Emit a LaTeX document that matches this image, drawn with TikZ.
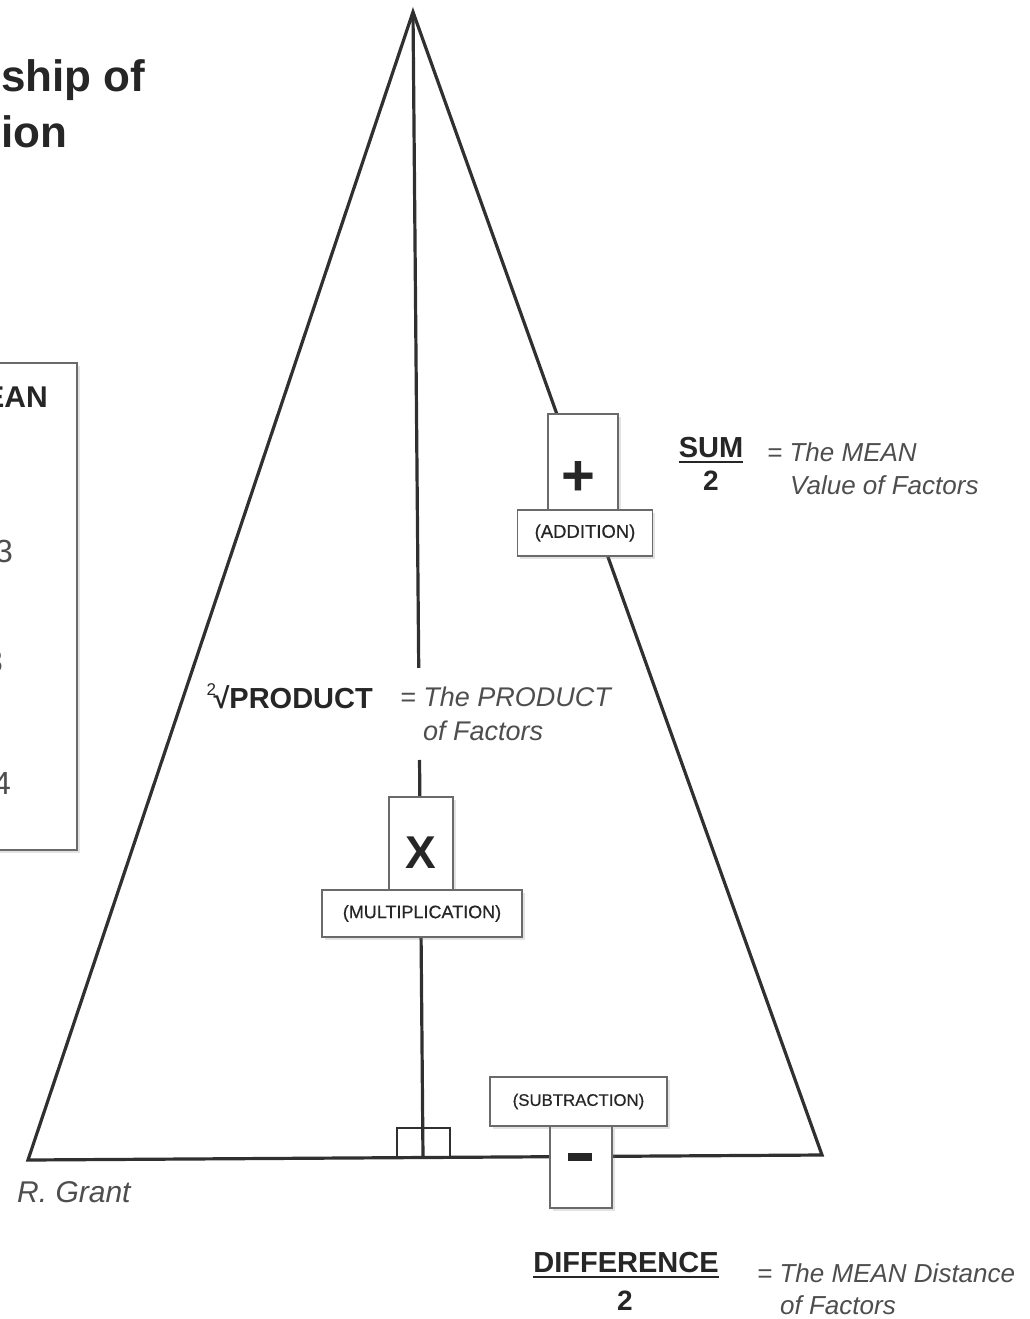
\documentclass[tikz,border=0pt]{standalone}
\usepackage{fontspec}
\setmainfont{Liberation Sans}
\usetikzlibrary{shadows,calc}
\definecolor{linec}{HTML}{303030}
\definecolor{boxc}{HTML}{6A6A6A}
\definecolor{ink}{HTML}{262626}
\definecolor{grayink}{HTML}{4E4E4E}
\newcommand{\setfs}[1]{\fontsize{#1}{#1}\selectfont}
\tikzset{
  side/.style={line width=3.2pt, draw=linec},
  opbox/.style={draw=boxc, line width=1.8pt, fill=white, inner sep=0pt,
    drop shadow={opacity=0.22, shadow xshift=2.5pt, shadow yshift=-2.5pt}},
  lbl/.style={inner sep=0pt, text=ink},
  desc/.style={inner sep=0pt, text=grayink, font=\setfs{26}\itshape},
  boldtxt/.style={inner sep=0pt, text=ink, font=\setfs{28}\bfseries},
  oplbl/.style={opbox, text=ink},
}
\begin{document}
\begin{tikzpicture}[x=1pt,y=-1pt]
\useasboundingbox[fill=white] (0,0) rectangle (1029,1319);

% title fragments
\node[lbl, anchor=base west, font=\setfs{44}\bfseries, text=ink] (title1) at (1,92) {ship of};
\node[lbl, anchor=base west, font=\setfs{44}\bfseries, text=ink] (title2) at (1,147) {ion};

% left table box (cut off)
\node[opbox, minimum width=97pt, minimum height=487pt] (leftbox) at (28.5,606.5) {};
\node[lbl, anchor=base east, font=\setfs{30}\bfseries] (mean) at (48,407) {EAN};
\node[lbl, anchor=base east, font=\setfs{32}, text=grayink] (v1) at (13,562) {3};
\node[lbl, anchor=base east, font=\setfs{32}, text=grayink] (v2) at (3,672) {3};
\node[lbl, anchor=base east, font=\setfs{32}, text=grayink] (v3) at (11,794) {4};

% triangle
\coordinate (apex) at (413,12);
\coordinate (L) at (28,1160);
\coordinate (R) at (822,1155);
\coordinate (foot) at (423,1158);
\coordinate (gapa) at ($(apex)!0.5724!(foot)$);
\coordinate (gapb) at ($(apex)!0.6527!(foot)$);
\draw[side, line join=miter] (L) -- (apex) -- (R) -- cycle;
\draw[side] (apex) -- (gapa);
\draw[side] (gapb) -- (foot);
\draw[line width=2.6pt, draw=linec] ($(foot)+(-26,0)$) rectangle ($(foot)+(27,-30)$);

% addition
\node[opbox, minimum width=70pt, minimum height=96pt] (plusbox) at (583,462) {};
\node[lbl, font=\setfs{58}\bfseries] (plus) at (578,478) {+};
\node[oplbl, minimum width=135pt, minimum height=46pt, font=\setfs{18.5}\addfontfeature{FakeBold=0.5}] (addbox) at (585,533) {(ADDITION)};

% multiplication
\node[opbox, minimum width=64pt, minimum height=93pt] (xbox) at (421,843.5) {};
\node[lbl, font=\setfs{46}\bfseries] (xsign) at (421,853) {X};
\node[oplbl, minimum width=200pt, minimum height=47pt, font=\setfs{18}\addfontfeature{FakeBold=0.5}] (multbox) at (422,913.5) {(MULTIPLICATION)};

% subtraction
\node[opbox, minimum width=62pt, minimum height=82pt] (minusbox) at (581,1167) {};
\node[oplbl, minimum width=177pt, minimum height=49pt, font=\setfs{16.8}\addfontfeature{FakeBold=0.5}] (subbox) at (578.5,1101.5) {(SUBTRACTION)};
\node[fill=ink, inner sep=0pt, minimum width=24pt, minimum height=8pt] (minus) at (580,1157) {};

% SUM / 2
\node[boldtxt, anchor=base, font=\setfs{29}\bfseries] (sum) at (711,457) {SUM};
\draw[line width=2.5pt, draw=ink] ([yshift=-5pt]sum.base west) -- ([yshift=-5pt]sum.base east);
\node[boldtxt, anchor=base] (sumtwo) at (711,490) {2};
\node[desc, anchor=base west] (mean1) at (767,461) {= The MEAN};
\node[desc, anchor=base west] (mean2) at (790,494) {Value of Factors};

% PRODUCT
\node[lbl, anchor=base east, font=\setfs{29}\bfseries] (root) at (373,708)
  {{\setfs{17}\mdseries\raisebox{13pt}{2}}\kern-2.5pt√PRODUCT};
\node[desc, anchor=base west, font=\setfs{27}\itshape] (prod1) at (400,706) {= The PRODUCT};
\node[desc, anchor=base west, font=\setfs{27}\itshape] (prod2) at (423,740) {of Factors};

% DIFFERENCE / 2
\node[boldtxt, anchor=base, font=\setfs{29}\bfseries] (diff) at (626,1272) {DIFFERENCE};
\draw[line width=2.5pt, draw=ink] ([yshift=-5pt]diff.base west) -- ([yshift=-5pt]diff.base east);
\node[boldtxt, anchor=base] (difftwo) at (625,1310) {2};
\node[desc, anchor=base west] (dist1) at (757,1282) {= The MEAN Distance};
\node[desc, anchor=base west] (dist2) at (780,1314) {of Factors};

% author
\node[lbl, anchor=base west, font=\setfs{30}\itshape, text=grayink] (author) at (17,1202) {R. Grant};
\end{tikzpicture}
\end{document}
